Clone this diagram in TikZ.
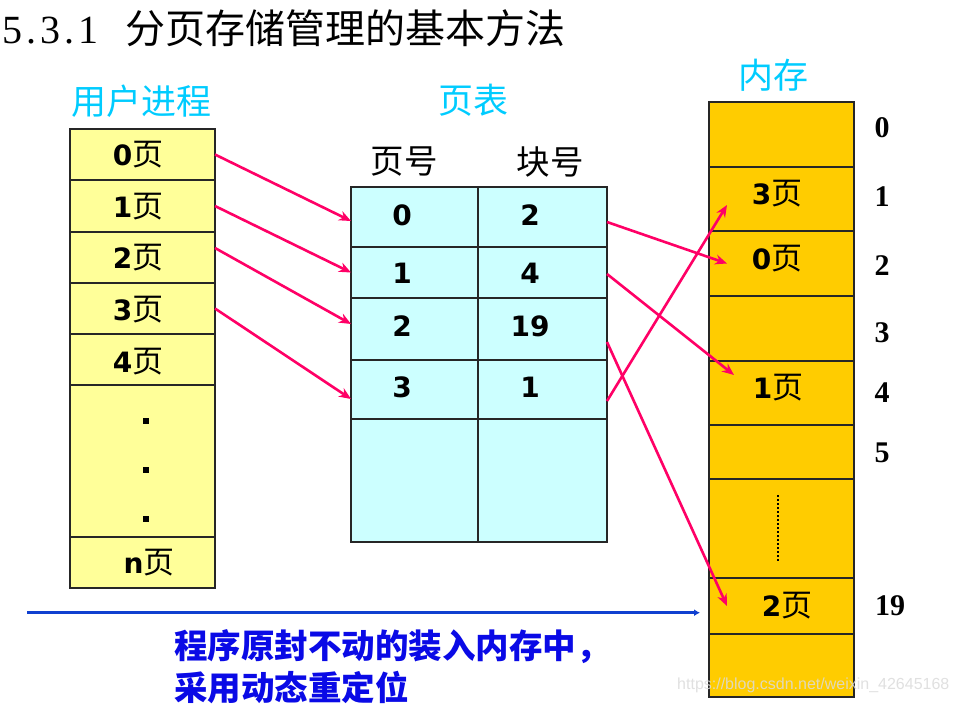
\documentclass[tikz,border=0pt]{standalone}
\usepackage{fontspec}
\setmainfont{DejaVu Sans}
\newfontfamily\cjk{Noto Sans CJK SC}
\newfontfamily\dv{DejaVu Sans}
\newfontfamily\tms{Liberation Serif}
\newfontfamily\lsans{Liberation Sans}
\usetikzlibrary{arrows.meta,calc}
\definecolor{ucol}{RGB}{255,255,153}
\definecolor{pcol}{RGB}{204,255,255}
\definecolor{mcol}{RGB}{255,204,0}
\definecolor{hcyan}{RGB}{0,204,255}
\definecolor{arr}{RGB}{255,0,102}
\definecolor{barr}{RGB}{16,64,208}
\definecolor{btxt}{RGB}{10,10,230}
\newcommand{\pg}[1]{{\dv\bfseries #1}{\cjk\fontsize{31}{33}\selectfont 页}}
\begin{document}
\begin{tikzpicture}[x=1pt,y=-1pt,
  cellbox/.style={draw=black!85, line width=1.2pt, anchor=north west, inner sep=0pt, outer sep=0pt},
  ucell/.style={cellbox, fill=ucol, minimum width=145pt},
  pcell/.style={cellbox, fill=pcol},
  mcell/.style={cellbox, fill=mcol, minimum width=145pt},
  lbl/.style={font=\fontsize{28}{30}\selectfont, inner sep=0pt},
  num/.style={font=\dv\bfseries\fontsize{28}{30}\selectfont, inner sep=0pt},
  idx/.style={font=\tms\bfseries\fontsize{30}{32}\selectfont, inner sep=0pt},
  head/.style={font=\cjk\fontsize{35}{37}\selectfont, text=hcyan, inner sep=0pt},
  colhead/.style={font=\cjk\fontsize{33.5}{35}\selectfont, inner sep=0pt},
  dotsq/.style={fill=black, minimum size=6.5pt, inner sep=0pt},
  rarrow/.style={draw=arr, line width=2.6pt, -{Stealth[length=12pt,width=10pt]}},
  barrow/.style={draw=barr, line width=3pt, -{Latex[length=6pt,width=7pt]}}
]
\useasboundingbox (0,0) rectangle (958,704);
\fill[white] (0,0) rectangle (958,704);

% title
\node[anchor=west, inner sep=0pt, font=\fontsize{40}{42}\selectfont] (title) at (3,28)
  {{\tms\makebox[19pt]{5}\makebox[19pt]{.}\makebox[19pt]{3}\makebox[19pt]{.}\makebox[19pt]{1}}\hspace{27pt}{\cjk 分页存储管理的基本方法}};

% headers
\node[head] (hu) at (141,101) {用户进程};
\node[head] (hp) at (473,100) {页表};
\node[head] (hm) at (773,75) {内存};
\node[colhead] (hpn) at (404,162) {页号};
\node[colhead] (hbn) at (550,162) {块号};

% user process column
\foreach \n/\t/\h in {0/129/51, 1/180/52, 2/232/51, 3/283/51, 4/334/51, 5/385/152, 6/537/51}
  \node[ucell, minimum height=\h pt] (u\n) at (70,\t) {};
\foreach \n/\y in {0/155, 1/207, 2/258, 3/310, 4/362}
  \node[lbl] (lu\n) at (138,\y) {\pg{\n}};
\node[dotsq] (d1) at (146,421) {};
\node[dotsq] (d2) at (146,470) {};
\node[dotsq] (d3) at (146,519) {};
\node[lbl] (lun) at (149,563) {\pg{n}};

% page table
\foreach \n/\t/\h in {0/187/60, 1/247/51, 2/298/62, 3/360/59, 4/419/123} {
  \node[pcell, minimum width=127pt, minimum height=\h pt] (p\n) at (351,\t) {};
  \node[pcell, minimum width=129pt, minimum height=\h pt] (q\n) at (478,\t) {};
}
\foreach \n/\y/\b in {0/215/2, 1/273/4, 2/326/19, 3/387/1} {
  \node[num] (pn\n) at (402,\y) {\n};
  \node[num] (bn\n) at (530,\y) {\b};
}

% memory
\foreach \n/\t/\h in {0/102/65, 1/167/64, 2/231/65, 3/296/65, 4/361/64, 5/425/54, 6/479/99, 7/578/56, 8/634/63}
  \node[mcell, minimum height=\h pt] (m\n) at (709,\t) {};
\node[lbl] (lm3) at (777,194) {\pg{3}};
\node[lbl] (lm0) at (777,259) {\pg{0}};
\node[lbl] (lm1) at (778,388) {\pg{1}};
\node[lbl] (lm2) at (787,606) {\pg{2}};
\coordinate (dtop) at (778,495);
\coordinate (dbot) at (778,561);
\draw[line width=2.2pt, dash pattern=on 2.2pt off 1.8pt] (dtop) -- (dbot);

% block indices
\foreach \n/\y in {0/128, 1/197, 2/266, 3/333, 4/393, 5/453}
  \node[idx] (i\n) at (882,\y) {\n};
\node[idx] (i19) at (890,606) {19};

% arrows: process pages -> page table
\draw[rarrow] (u0.east) -- ($(p0.west)+(0,4)$);
\draw[rarrow] (u1.east) -- (p1.west);
\draw[rarrow] ($(u2.east)+(0,-9.5)$) -- ($(p2.west)+(0,-5)$);
\draw[rarrow] (u3.east) -- ($(p3.west)+(0,9.5)$);

% arrows: page table -> memory
\draw[rarrow] ($(q0.east)+(0,5)$) -- ($(m2.west)+(18,0)$);
\draw[rarrow] ($(q1.east)+(0,1.5)$) -- ($(m4.west)+(25,-18)$);
\draw[rarrow] ($(q2.east)+(0,13)$) -- ($(m7.west)+(18,0)$);
\draw[rarrow] ($(q3.east)+(0,11.5)$) -- ($(m1.west)+(18,6)$);

% blue arrow
\coordinate (bl) at (27,612.7);
\coordinate (br) at (700,612.7);
\draw[barrow] (bl) -- (br);

% note
\node[anchor=north west, align=left, inner sep=0pt, text=btxt,
      font=\cjk\bfseries\fontsize{33.5}{42}\selectfont] (note) at (174,629)
  {程序原封不动的装入内存中，\\采用动态重定位};

% watermark
\node[anchor=west, inner sep=0pt, text=black!14, opacity=0.85,
      font=\lsans\fontsize{16}{18}\selectfont] (wm) at (677,685)
  {https://blog.csdn.net/weixin\_42645168};
\end{tikzpicture}
\end{document}
